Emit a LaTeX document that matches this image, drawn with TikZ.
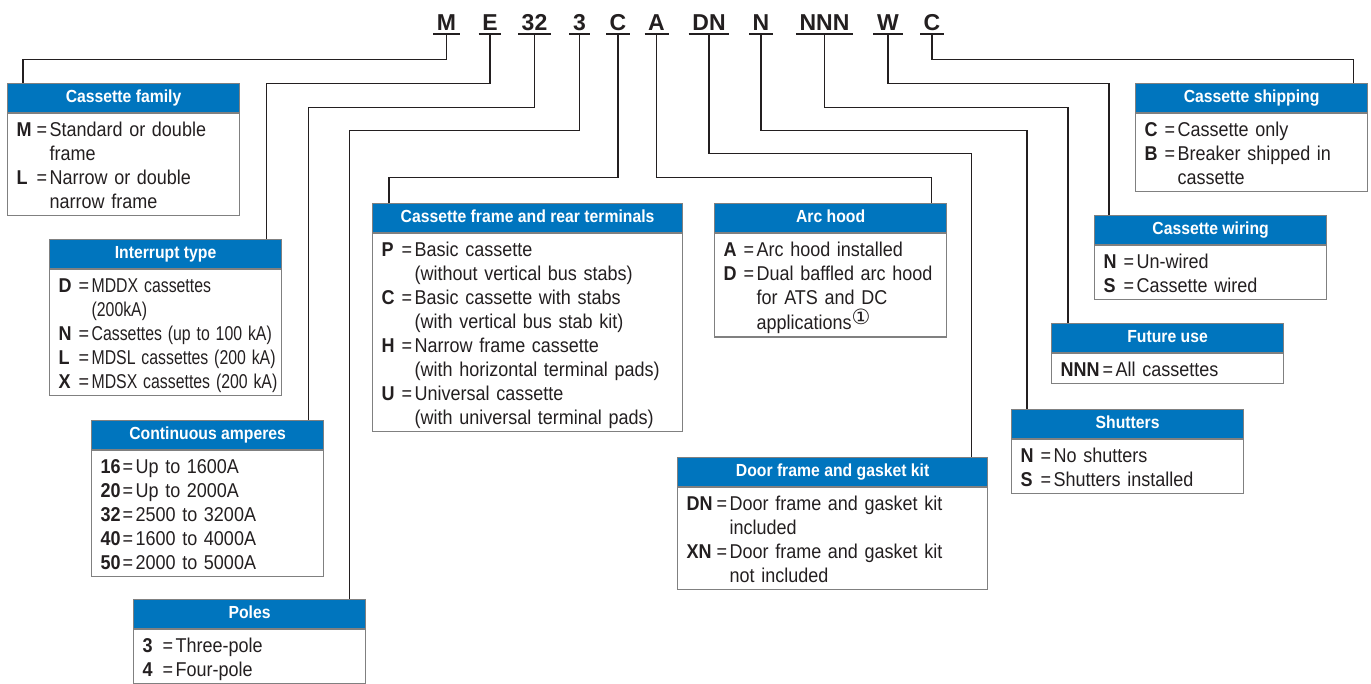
\documentclass[tikz,border=0pt]{standalone}
\usepackage{fontspec}
\usepackage{array}
\usepackage{graphicx}
\setmainfont{Liberation Sans}[FakeStretch=0.9]
\newfontfamily\codefont{Liberation Sans}
\newfontfamily\symfont{DejaVu Sans}

\definecolor{headblue}{RGB}{0,117,190}
\definecolor{boxgray}{RGB}{128,128,128}
\definecolor{ink}{RGB}{35,31,32}

% key = description table inside the boxes
\newcommand{\keytab}[2][20pt]{%
  \setbox\strutbox\hbox{\vrule height 19.3pt depth 4.7pt width 0pt}%
  \begin{tabular}{@{}>{\bfseries}p{#1}@{}l@{\hspace{2.5pt}}l@{}}#2\end{tabular}}
\newcommand{\sq}[1]{\scalebox{0.88}[1]{#1}}

\begin{document}
\begin{tikzpicture}[
  x=1pt,
  y=-1pt,
  conn/.style={draw=ink,line width=1.3pt},
  uline/.style={draw=ink,line width=2pt},
  code/.style={font=\codefont\bfseries\fontsize{23}{23}\selectfont,text=ink,anchor=base,
    inner xsep=3.5pt,inner ysep=3pt,text depth=0pt},
  head/.style={draw=boxgray,line width=1.2pt,fill=headblue,text=white,anchor=north west,
    minimum width=232pt,minimum height=29pt,inner ysep=0pt,text height=13pt,text depth=4pt,
    font=\bfseries\fontsize{17.5}{20}\selectfont},
  widehead/.style={head,minimum width=310pt},
  body/.style={draw=boxgray,line width=1.2pt,anchor=north west,text=ink,
    inner xsep=9pt,inner ysep=3pt,text width=214pt,font=\fontsize{20}{24}\selectfont},
  widebody/.style={body,text width=292pt}
]
\useasboundingbox (0,0) rectangle (1371,683);

% Catalog number
\node[code] (cM) at (446.5,30.5) {M};
\node[code] (cE) at (490,30.5) {E};
\node[code] (c32) at (534.5,30.5) {32};
\node[code] (c3) at (579.5,30.5) {3};
\node[code] (cC) at (618,30.5) {C};
\node[code] (cA) at (656.5,30.5) {A};
\node[code] (cDN) at (709,30.5) {DN};
\node[code] (cN) at (761,30.5) {N};
\node[code] (cNNN) at (824.5,30.5) {NNN};
\node[code] (cW) at (888,30.5) {W};
\node[code] (cCC) at (932,30.5) {C};
\foreach \c in {cM,cE,c32,c3,cC,cA,cDN,cN,cNNN,cW,cCC}
  \draw[uline] (\c.south west) -- (\c.south east);

% Left side boxes
\node[head] (fam) at (7,83) {Cassette family};
\node[body] (famb) at (fam.south west) {\keytab{%
  M & = & Standard or double\\
    &   & frame\\
  L & = & Narrow or double\\
    &   & narrow frame}};

\node[head] (intr) at (49,239) {Interrupt type};
\node[body] (intrb) at (intr.south west) {\keytab{%
  D & = & \sq{MDDX cassettes}\\
    &   & \sq{(200kA)}\\
  N & = & \sq{Cassettes (up to 100 kA)}\\
  L & = & \sq{MDSL cassettes (200 kA)}\\
  X & = & \sq{MDSX cassettes (200 kA)}}};

\node[head] (amps) at (91,420) {Continuous amperes};
\node[body] (ampsb) at (amps.south west) {\keytab[22pt]{%
  16 & = & Up to 1600A\\
  20 & = & Up to 2000A\\
  32 & = & 2500 to 3200A\\
  40 & = & 1600 to 4000A\\
  50 & = & 2000 to 5000A}};

\node[head] (poles) at (133,599) {Poles};
\node[body] (polesb) at (poles.south west) {\keytab{%
  3 & = & Three-pole\\
  4 & = & Four-pole}};

% Middle boxes
\node[widehead] (frame) at (372,203) {Cassette frame and rear terminals};
\node[widebody] (frameb) at (frame.south west) {\keytab{%
  P & = & Basic cassette\\
    &   & (without vertical bus stabs)\\
  C & = & Basic cassette with stabs\\
    &   & (with vertical bus stab kit)\\
  H & = & Narrow frame cassette\\
    &   & (with horizontal terminal pads)\\
  U & = & Universal cassette\\
    &   & (with universal terminal pads)}};

\node[head] (arc) at (714,203) {Arc hood};
\node[body] (arcb) at (arc.south west) {\keytab{%
  A & = & Arc hood installed\\
  D & = & Dual baffled arc hood\\
    &   & for ATS and DC\\
    &   & applications\raisebox{5pt}{\fontsize{21}{21}\symfont ①}}};

\node[widehead] (door) at (677,457) {Door frame and gasket kit};
\node[widebody] (doorb) at (door.south west) {\keytab[30pt]{%
  DN & = & Door frame and gasket kit\\
     &   & included\\
  XN & = & Door frame and gasket kit\\
     &   & not included}};

% Right side boxes
\node[head] (ship) at (1135,83) {Cassette shipping};
\node[body] (shipb) at (ship.south west) {\keytab{%
  C & = & Cassette only\\
  B & = & Breaker shipped in\\
    &   & cassette}};

\node[head] (wire) at (1094,215) {Cassette wiring};
\node[body] (wireb) at (wire.south west) {\keytab{%
  N & = & Un-wired\\
  S & = & Cassette wired}};

\node[head] (future) at (1051,323) {Future use};
\node[body] (futureb) at (future.south west) {\keytab[42pt]{%
  NNN & = & All cassettes}};

\node[head] (shut) at (1011,409) {Shutters};
\node[body] (shutb) at (shut.south west) {\keytab{%
  N & = & No shutters\\
  S & = & Shutters installed}};

% Leader lines
\draw[conn] (cM.south) -- ++(0,26) -| ([xshift=16pt]fam.north west);
\draw[conn] (cE.south) -- ++(0,50) -| ([xshift=-16pt]intr.north east);
\draw[conn] (c32.south) -- ++(0,74) -| ([xshift=-16pt]amps.north east);
\draw[conn] (c3.south) -- ++(0,97) -| ([xshift=-17pt]poles.north east);
\draw[conn] (cC.south) -- ++(0,144) -| ([xshift=17pt]frame.north west);
\draw[conn] (cA.south) -- ++(0,144) -| ([xshift=-16pt]arc.north east);
\draw[conn] (cDN.south) -- ++(0,120) -| ([xshift=-17pt]door.north east);
\draw[conn] (cN.south) -- ++(0,97) -| ([xshift=16pt]shut.north west);
\draw[conn] (cNNN.south) -- ++(0,74) -| ([xshift=17pt]future.north west);
\draw[conn] (cW.south) -- ++(0,50) -| ([xshift=15pt]wire.north west);
\draw[conn] (cCC.south) -- ++(0,26) -| ([xshift=-15pt]ship.north east);

\end{tikzpicture}
\end{document}
